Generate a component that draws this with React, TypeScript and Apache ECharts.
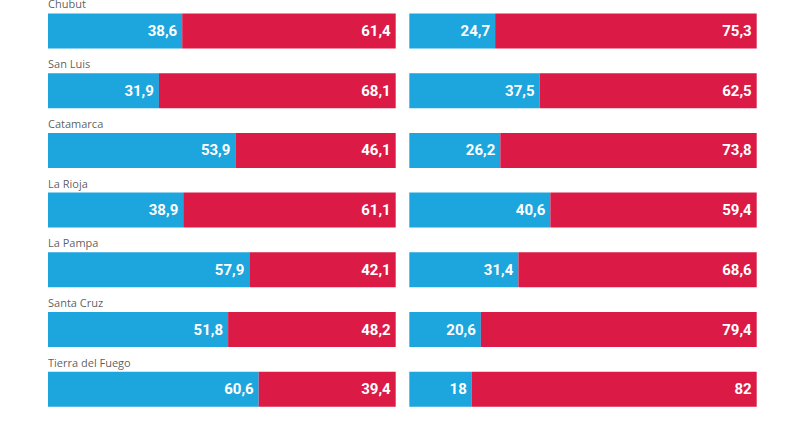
import React, { useEffect, useRef } from "react";
import * as echarts from "echarts";

const provinces = ["Chubut", "San Luis", "Catamarca", "La Rioja", "La Pampa", "Santa Cruz", "Tierra del Fuego"];
const leftBlue = [38.6, 31.9, 53.9, 38.9, 57.9, 51.8, 60.6];
const leftRed = [61.4, 68.1, 46.1, 61.1, 42.1, 48.2, 39.4];
const rightBlue = [24.7, 37.5, 26.2, 40.6, 31.4, 20.6, 18];
const rightRed = [75.3, 62.5, 73.8, 59.4, 68.6, 79.4, 82];

const BLUE = "#1da5de";
const RED = "#dc1a46";

const fmt = (v: number) => String(v).replace(".", ",");

export default function App() {
  const ref = useRef<HTMLDivElement>(null);

  useEffect(() => {
    document.body.style.margin = "0";
    const chart = echarts.init(ref.current!, null, { renderer: "svg" });

    const grids = [
      { left: 48, right: 411.3, top: 1.1, height: 418 },
      { left: 409.3, right: 50.3, top: 1.1, height: 418 },
    ];

    const valueLabel = {
      show: true,
      position: "insideRight" as const,
      distance: 5,
      color: "#ffffff",
      fontFamily: "Roboto",
      fontWeight: "bold" as const,
      fontSize: 15,
      formatter: (p: any) => fmt(p.value),
    };

    const mkSeries = (idx: number, blue: number[], red: number[]) => [
      {
        type: "bar",
        xAxisIndex: idx,
        yAxisIndex: idx,
        stack: "s" + idx,
        data: blue,
        barWidth: 35,
        itemStyle: { color: BLUE },
        label: valueLabel,
      },
      {
        type: "bar",
        xAxisIndex: idx,
        yAxisIndex: idx,
        stack: "s" + idx,
        data: red,
        barWidth: 35,
        itemStyle: { color: RED },
        label: valueLabel,
      },
    ];

    // Province names sit above each left-hand bar
    const nameSeries = {
      type: "scatter",
      xAxisIndex: 0,
      yAxisIndex: 0,
      symbolSize: 0,
      silent: true,
      data: provinces.map((p) => [0, p]),
      label: {
        show: true,
        position: "inside",
        align: "left",
        verticalAlign: "middle",
        offset: [0, -27],
        color: "#333333",
        fontFamily: "Open Sans",
        fontSize: 11,
        formatter: (p: any) => p.value[1],
      },
      z: 5,
    };

    chart.setOption({
      animation: false,
      grid: grids,
      xAxis: [0, 1].map((i) => ({
        type: "value",
        gridIndex: i,
        min: 0,
        max: 100,
        show: false,
      })),
      yAxis: [0, 1].map((i) => ({
        type: "category",
        gridIndex: i,
        data: provinces,
        inverse: true,
        show: false,
      })),
      series: [...mkSeries(0, leftBlue, leftRed), ...mkSeries(1, rightBlue, rightRed), nameSeries],
    });

    return () => chart.dispose();
  }, []);

  return <div ref={ref} style={{ width: 807, height: 440, background: "#ffffff" }} />;
}
